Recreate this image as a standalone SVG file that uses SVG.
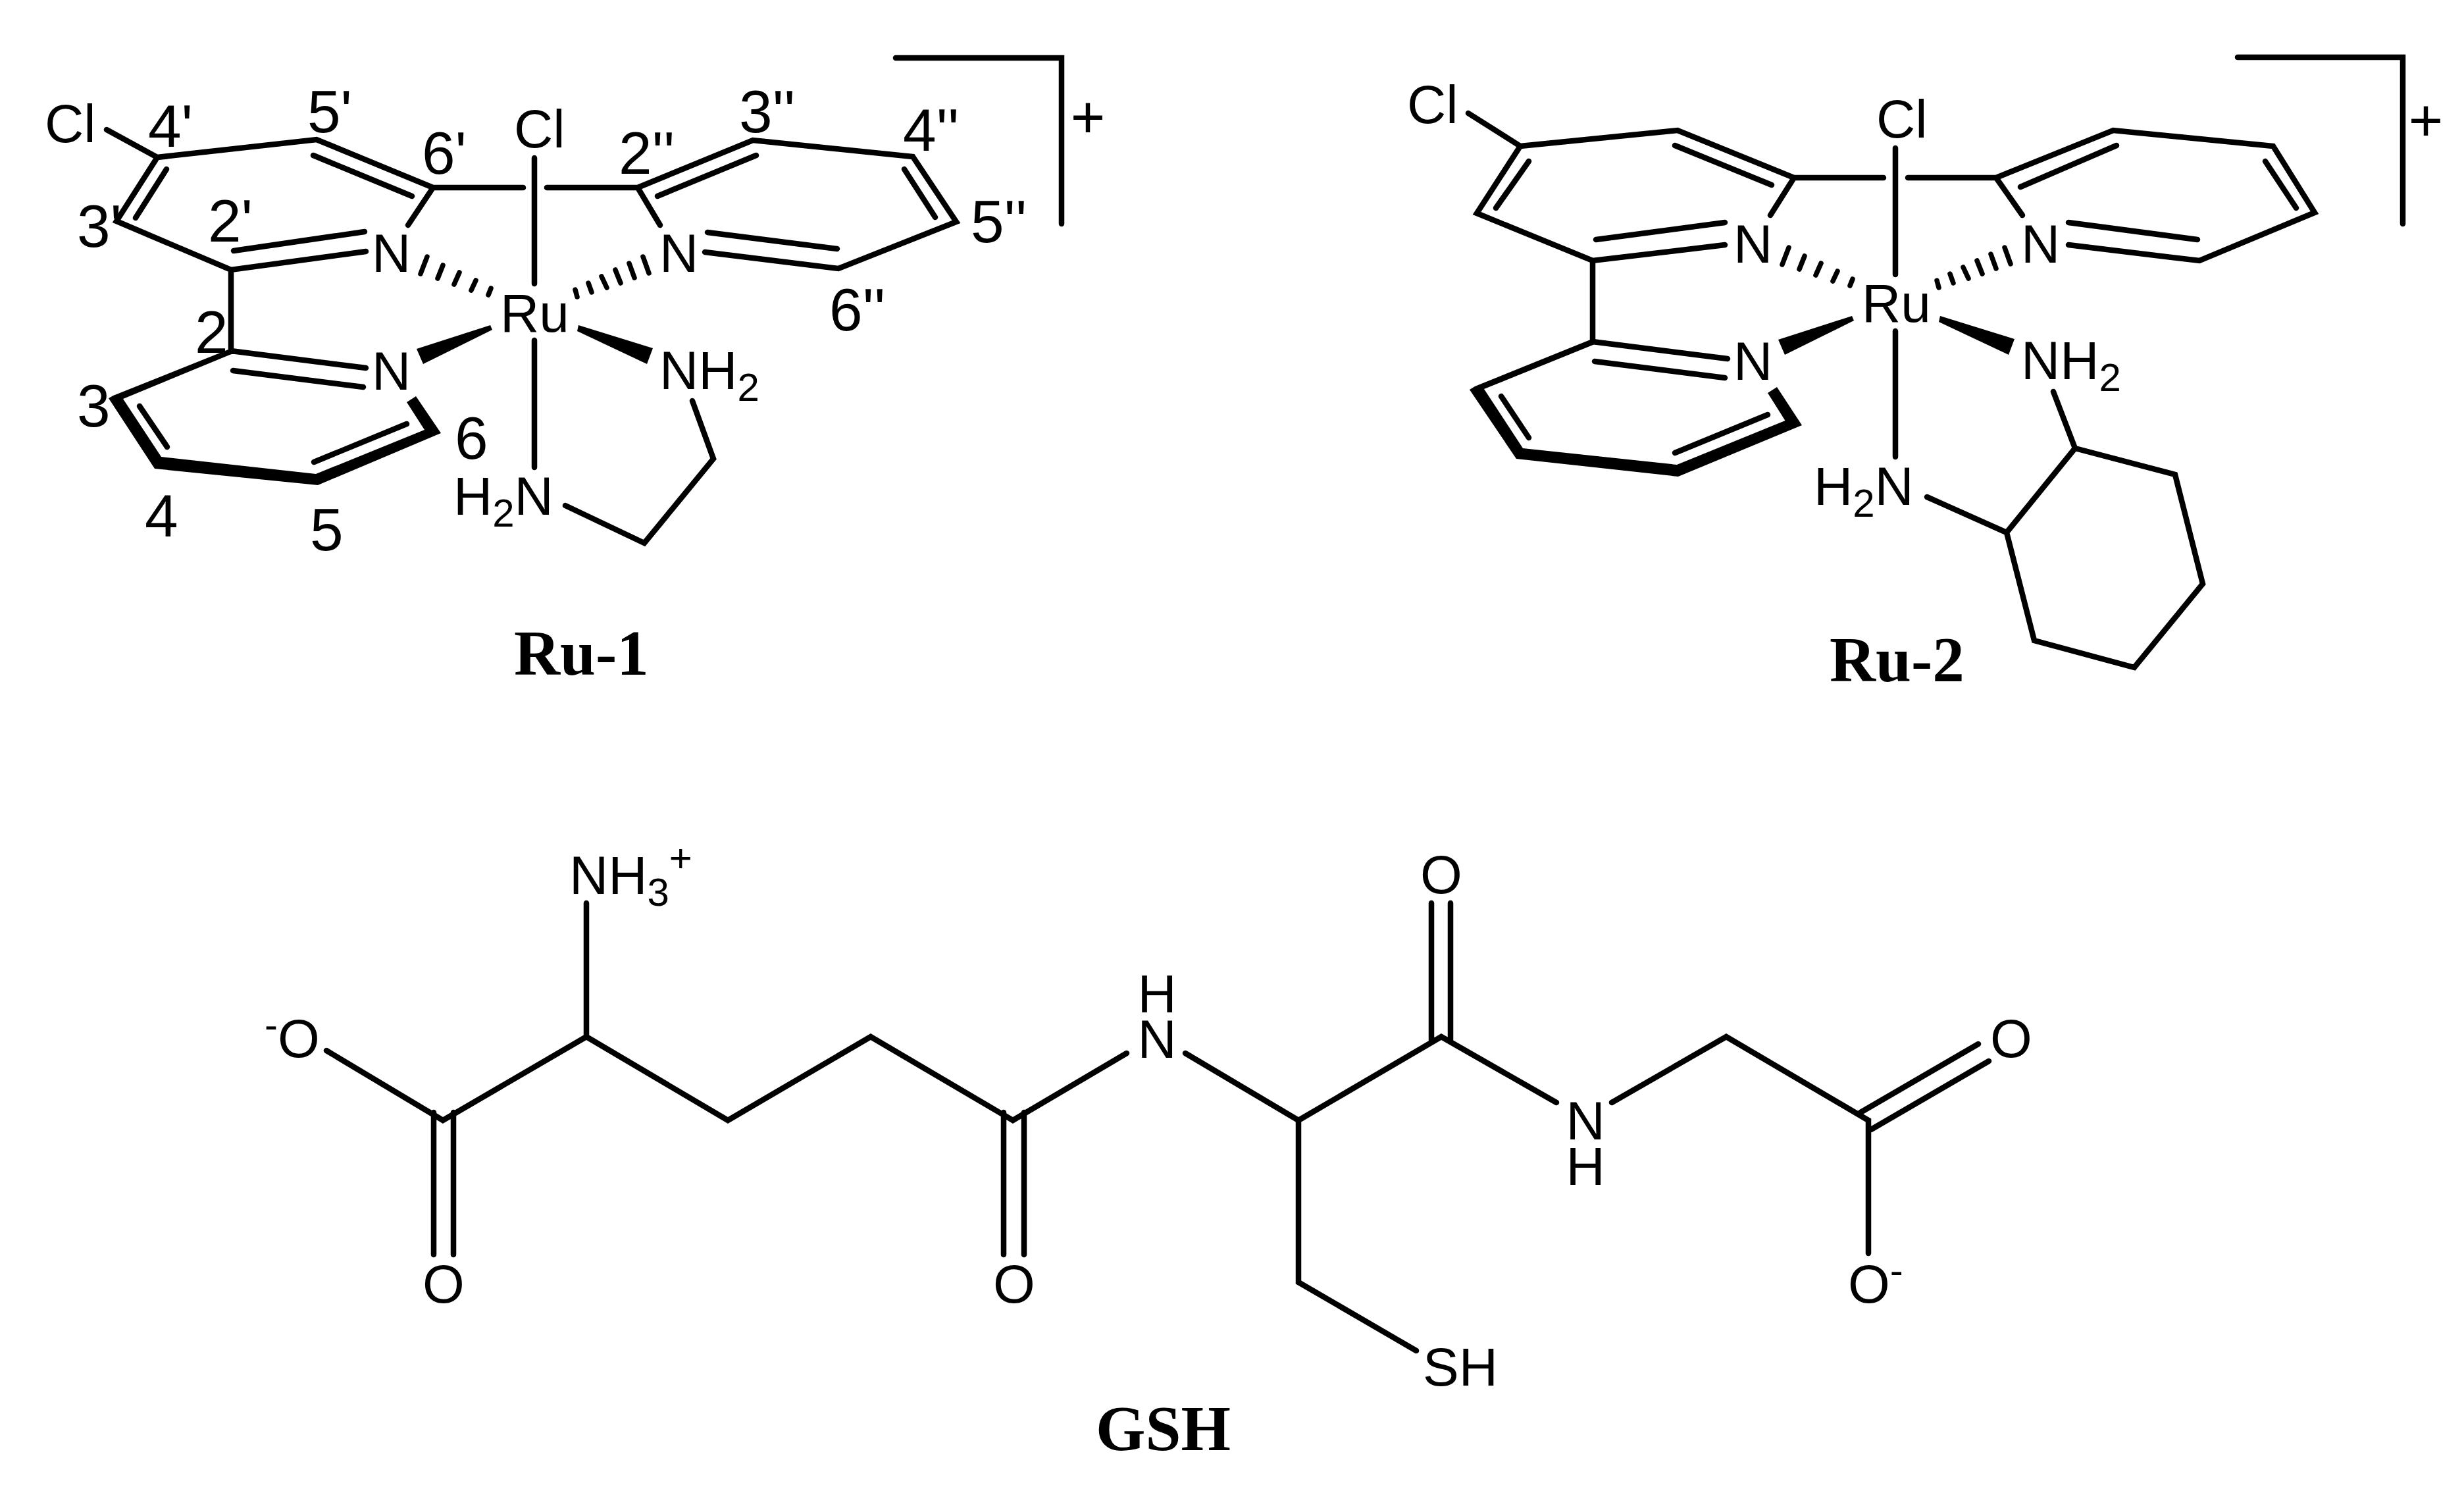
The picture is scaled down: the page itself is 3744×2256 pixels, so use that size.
<svg xmlns="http://www.w3.org/2000/svg" xmlns:xlink="http://www.w3.org/1999/xlink" width="3744" height="2256" viewBox="0 0 3744 2256">
<style>
.b{fill:none;stroke:#000;stroke-width:8.5;stroke-linecap:round;stroke-linejoin:miter;stroke-miterlimit:3}
.h{stroke-width:7.5}
.w{fill:#000;stroke:none}
text{fill:#000;font-family:"Liberation Sans",Arial,sans-serif;font-size:82px}
.n{font-size:91px}
.s{font-size:60px}
.p{font-size:90px;text-anchor:middle}
.m{text-anchor:middle}
.t{font-family:"Liberation Serif","Times New Roman",serif;font-weight:bold;font-size:97px}
</style>
<defs>
<g id="hash" class="b h">
<path d="M649 390L639 416M673 403L665 423M698 414L690 432M723 426L716 441M746 438L742 448"/>
<path d="M977 390L986 415M956 400L964 422M935 410L943 430M914 420L922 437M894 430L899 444M874 440L877 451"/>
</g>
<g id="wedges" class="w">
<polygon points="745,494 748,501 643,553 633,530"/>
<polygon points="879,494 877,503 983,553 992,529"/>
</g>
</defs>
<rect width="3744" height="2256" fill="#fff"/>
<g id="bonds-ru1">
<polygon class="w" points="165,605 235,712 483,737 670,658 632,602 618,611 645,653 480,720 245,694 187,606 354,537 352,529 172,601"/>
<path class="b" d="M162 197L239 239L177 336L351 410L556 382M239 239L481 212L658 285L620 342M658 285H795M831 285H969L1003 342M969 285L1144 213L1387 238L1453 337L1274 408L1071 383M351 410V534M351 533L556 559"/>
<path class="b" d="M355 381L554 352M253 257L206 331M476 236L626 298M999 298L1149 236M1374 257L1421 330M1075 353L1272 378M354 563L552 588M212 617L254 679M477 702L618 644"/>
<path class="b" d="M812 240V431M812 517V710M1052 609L1084 697L979 825L859 768"/>
<use xlink:href="#hash" href="#hash"/>
<use xlink:href="#wedges" href="#wedges"/>
<path class="b" d="M1361 88H1613V340"/>
</g>
<g id="ru1">
<text x="68" y="216">Cl</text>
<text x="781" y="224">Cl</text>
<text x="760" y="504">Ru</text>
<text x="565" y="413">N</text>
<text x="1002" y="413">N</text>
<text x="565" y="592">N</text>
<text x="1002" y="591">NH<tspan class="s" dy="18">2</tspan></text>
<text x="689" y="782">H<tspan class="s" dy="18">2</tspan><tspan dy="-18">N</tspan></text>
<text class="n" x="225" y="223">4'</text>
<text class="n" x="467" y="201">5'</text>
<text class="n" x="641" y="264">6'</text>
<text class="n" x="940" y="264">2''</text>
<text class="n" x="1123" y="201">3''</text>
<text class="n" x="1372" y="229">4''</text>
<text class="n" x="1475" y="368">5''</text>
<text class="n" x="1260" y="502">6''</text>
<text class="n" x="117" y="375">3'</text>
<text class="n" x="316" y="367">2'</text>
<text class="n" x="296" y="536">2</text>
<text class="n" x="117" y="648">3</text>
<text class="n" x="691" y="697">6</text>
<text class="n" x="220" y="815">4</text>
<text class="n" x="471" y="836">5</text>
<text class="p" x="1653" y="209">+</text>
<text class="t" x="781" y="1025">Ru-1</text>
</g>
<g id="bonds-ru2">
<polygon class="w" points="2233,592 2304,697 2550,724 2738,646 2700,588 2686,597 2712.5,639 2548,706 2314,681 2255,591 2423,523 2419,515 2241,587"/>
<path class="b" d="M2231 172L2310 222L2244 324L2420 396L2621 372M2310 222L2549 198L2726 270L2690 327M2726 270H2862M2899 270H3033L3073 327M3033 270L3211 198L3454 222L3517 323L3342 396L3143 372M2420 396V519M2420 519L2625 545"/>
<path class="b" d="M2425 364L2621 338M2323 245L2273 316M2545 221L2692 281M3070 284L3216 221M3442 245L3489 316M3143 338L3339 364M2423 549L2621 574M2281 602L2323 665M2545 688L2686 630"/>
<path class="b" d="M2880 225V417M2880 503V694"/>
<path class="b" d="M3120 595L3153 681L3305 721L3347 887L3243 1014L3091 973L3049 809L3153 681M2928 755L3049 809"/>
<use xlink:href="#hash" href="#hash" transform="translate(2069 -14)"/>
<use xlink:href="#wedges" href="#wedges" transform="translate(2069 -14)"/>
<path class="b" d="M3400 87H3651V340"/>
</g>
<g id="ru2">
<text x="2138" y="187">Cl</text>
<text x="2851" y="209">Cl</text>
<text x="2829" y="489">Ru</text>
<text x="2634" y="399">N</text>
<text x="3071" y="399">N</text>
<text x="2634" y="577">N</text>
<text x="3071" y="576">NH<tspan class="s" dy="18">2</tspan></text>
<text x="2756" y="767">H<tspan class="s" dy="18">2</tspan><tspan dy="-18">N</tspan></text>
<text class="p" x="3686" y="214">+</text>
<text class="t" x="2780" y="1035">Ru-2</text>
</g>
<g id="bonds-gsh">
<path class="b" d="M496 1596L673 1702L891 1575L1106 1702L1323 1575L1539 1702L1712 1600M891 1575V1372M659 1690V1906M689 1690V1906M1525 1690V1906M1556 1690V1906"/>
<path class="b" d="M1801 1600L1973 1702L2190 1575L2365 1675M2449 1675L2623 1575L2839 1702V1904M1973 1702V1948L2152 2052M2175 1372V1580M2204 1372V1580M2827 1690L3006 1586M2843 1716L3022 1612"/>
</g>
<g id="gsh">
<text x="865" y="1358">NH<tspan class="s" dy="18">3</tspan><tspan class="s" dy="-52">+</tspan></text>
<text x="402" y="1577"><tspan class="s">-</tspan><tspan dy="29">O</tspan></text>
<text class="m" x="674" y="1979">O</text>
<text class="m" x="1541" y="1979">O</text>
<text class="m" x="1758" y="1538">H</text>
<text class="m" x="1758" y="1607">N</text>
<text class="m" x="2190" y="1357">O</text>
<text class="m" x="2409" y="1731">N</text>
<text class="m" x="2409" y="1800">H</text>
<text class="m" x="3056" y="1606">O</text>
<text x="2808" y="1979">O<tspan class="s" dy="-29">-</tspan></text>
<text x="2162" y="2105">SH</text>
<text class="t" x="1665" y="2203">GSH</text>
</g>
</svg>
